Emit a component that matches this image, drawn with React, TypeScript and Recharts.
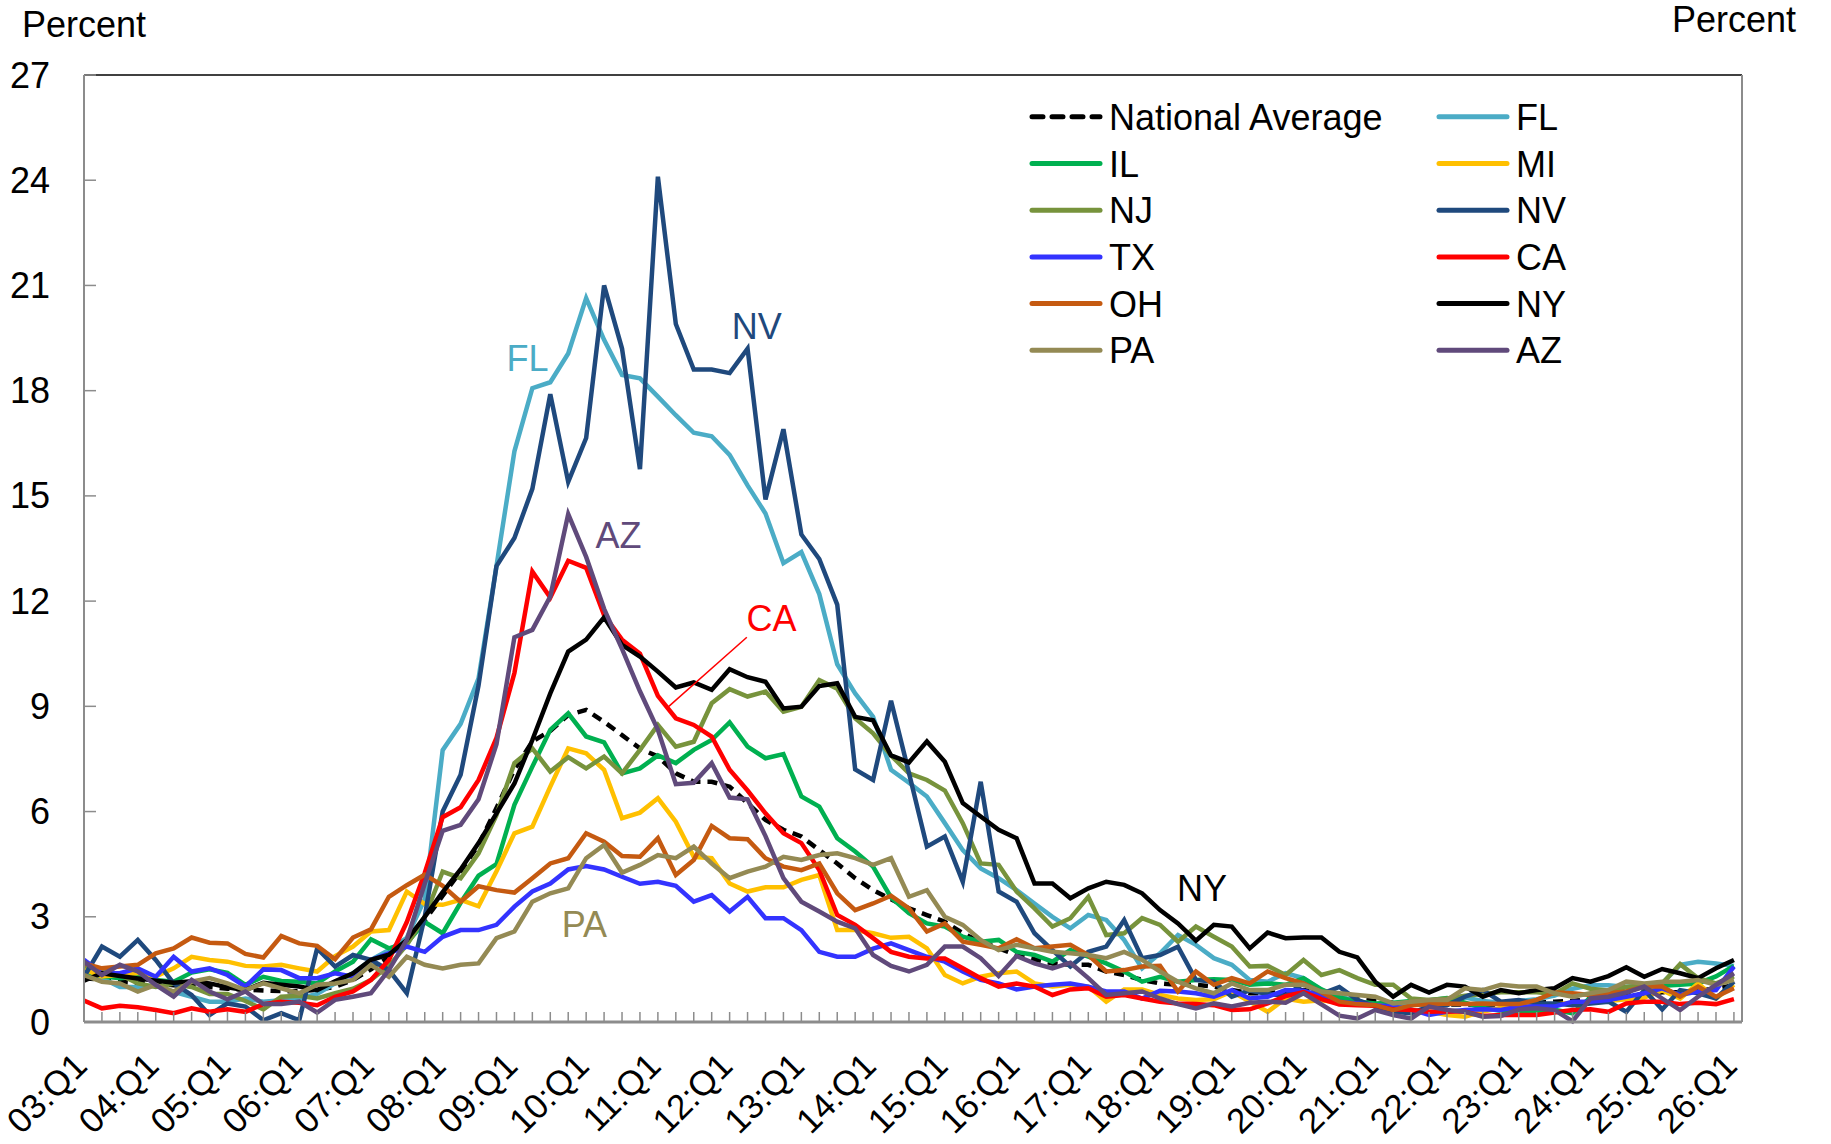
import React from 'react';
import { LineChart, Line, XAxis, YAxis, ReferenceDot, ReferenceLine } from 'recharts';

const YEARS = ['03','04','05','06','07','08','09','10','11','12','13','14','15','16','17','18','19','20','21','22','23','24','25','26'];
const QUARTERS = ['Q1','Q2','Q3','Q4'];
const CATEGORIES: string[] = [];
YEARS.forEach((y) => QUARTERS.forEach((q) => { if (!(y === '26' && q !== 'Q1')) CATEGORIES.push(`${y}:${q}`); }));

const Y_TICKS = [0, 3, 6, 9, 12, 15, 18, 21, 24, 27];

const NAT = [1.25,1.2,1.15,1.12,1.1,1.05,1.02,1.0,0.95,0.92, 0.9,0.88,0.88,0.92,1.0,1.2,1.5,1.85,2.3,2.9, 3.6,4.3,5.05,6.1,7.2,8.0,8.3,8.75,8.9,8.56, 8.18,7.8,7.57,7.09,6.85,6.85,6.71,6.24,5.76,5.48, 5.29,4.9,4.52,4.1,3.76,3.5,3.24,3.05,2.86,2.53, 2.29,2.1,1.91,1.79,1.67,1.63,1.63,1.44,1.34,1.2, 1.1,1.06,1.06,1.01,0.91,0.82,0.82,0.87,0.91,0.82, 0.72,0.65,0.6,0.55,0.52,0.5,0.5,0.5,0.5,0.5, 0.52,0.55,0.58,0.6,0.65,0.7,0.75,0.8,0.85,0.85, 0.9,0.95,1.05];
const FL = [1.4,1.25,1.0,1.0,1.05,0.86,0.72,0.58,0.58,0.67, 0.58,0.62,0.67,0.8,1.1,1.39,1.77,2.05,2.4,3.5, 7.75,8.5,9.8,13.0,16.27,18.07,18.24,19.06,20.64,19.45, 18.45,18.35,17.83,17.3,16.8,16.7,16.17,15.3,14.5,13.08, 13.4,12.2,10.2,9.37,8.7,7.19,6.82,6.43,5.67,4.9, 4.38,4.1,3.76,3.38,3.0,2.67,3.05,2.91,2.34,1.53, 1.96,2.48,2.2,1.82,1.63,1.2,1.15,1.39,1.25,0.91, 0.72,0.6,0.5,0.45,0.5,0.55,0.6,0.7,0.6,0.55, 0.6,0.65,0.75,0.95,1.05,1.05,1.0,1.05,1.1,1.63, 1.72,1.67,1.6];
const IL = [1.45,1.3,1.25,1.3,1.2,1.15,1.41,1.5,1.4,1.06, 1.29,1.17,1.15,1.1,1.44,1.72,2.36,2.1,2.25,2.85, 2.53,3.4,4.17,4.5,6.19,7.28,8.33,8.8,8.14,7.97, 7.09,7.23,7.6,7.38,7.76,8.04,8.54,7.85,7.52,7.64, 6.43,6.14,5.24,4.86,4.43,3.55,3.1,2.81,2.72,2.43, 2.29,2.34,2.0,1.91,1.72,2.05,1.86,1.67,1.44,1.15, 1.29,1.15,1.2,1.22,1.2,1.06,1.1,1.06,1.25,0.93, 0.7,0.58,0.53,0.55,0.6,0.62,0.68,0.55,0.4,0.32, 0.3,0.3,0.35,0.25,0.7,0.85,1.0,1.0,1.03,1.06, 1.1,1.3,1.6];
const MI = [1.5,1.3,1.35,1.4,1.3,1.53,1.86,1.77,1.72,1.6, 1.58,1.63,1.53,1.44,1.88,2.15,2.58,2.62,3.72,3.36, 3.34,3.48,3.3,4.3,5.38,5.57,6.71,7.8,7.66,7.19, 5.81,5.97,6.38,5.71,4.71,4.67,3.95,3.72,3.84,3.84, 4.05,4.19,2.62,2.62,2.53,2.4,2.43,2.1,1.34,1.1, 1.29,1.39,1.44,1.1,1.01,1.06,1.01,0.58,0.93,0.93, 0.77,0.67,0.63,0.65,0.87,0.58,0.29,0.67,0.58,0.62, 0.55,0.5,0.48,0.42,0.35,0.3,0.2,0.15,0.3,0.4, 0.45,0.45,0.5,0.55,0.55,0.6,0.65,0.7,0.9,0.67, 1.1,0.67,1.06];
const NJ = [1.6,1.5,1.35,1.1,1.0,1.1,1.0,0.8,0.8,0.6, 0.36,0.72,0.75,0.67,0.82,0.95,1.2,1.6,2.2,3.0, 4.29,4.1,4.81,5.9,7.38,7.8,7.14,7.55,7.23,7.57, 7.09,7.76,8.47,7.85,7.99,9.09,9.49,9.28,9.42,8.85, 8.99,9.75,9.5,8.66,8.23,7.6,7.09,6.9,6.6,5.67, 4.52,4.48,3.72,3.24,2.72,2.96,3.57,2.48,2.53,2.96, 2.77,2.29,2.72,2.43,2.15,1.58,1.6,1.34,1.77,1.34, 1.48,1.25,1.06,1.06,0.67,0.63,0.67,0.75,0.8,0.85, 0.85,0.85,0.8,1.1,0.95,0.9,1.0,1.05,1.1,1.65, 1.25,1.1,1.3];
const NV = [1.29,2.15,1.86,2.34,1.77,1.1,0.77,0.2,0.53,0.44, 0.05,0.25,0.05,2.1,1.58,1.91,1.77,1.48,0.82,3.0, 6.0,7.05,9.6,13.0,13.8,15.2,17.9,15.4,16.65,21.0, 19.2,15.76,24.1,19.9,18.6,18.6,18.5,19.2,14.9,16.9, 13.9,13.2,11.9,7.2,6.9,9.16,7.1,5.0,5.29,4.0, 6.85,3.72,3.43,2.53,2.05,1.58,2.0,2.15,2.91,1.82, 1.91,2.15,1.2,1.15,0.72,0.9,0.8,0.75,1.1,0.8, 1.0,0.63,0.44,0.29,0.25,0.44,0.48,0.72,0.91,0.58, 0.63,0.53,0.53,0.48,0.53,0.58,0.29,0.91,0.36,0.91, 0.82,0.67,1.15];
const TX = [1.77,1.39,1.39,1.53,1.29,1.86,1.44,1.53,1.34,1.01, 1.5,1.48,1.25,1.25,1.39,1.29,1.77,1.96,2.15,2.0, 2.43,2.62,2.62,2.77,3.29,3.72,3.95,4.35,4.45,4.35, 4.14,3.94,4.0,3.88,3.43,3.62,3.15,3.57,2.96,2.96, 2.62,2.0,1.86,1.86,2.09,2.24,2.05,1.86,1.72,1.44, 1.2,1.1,0.93,1.01,1.06,1.1,1.01,0.87,0.87,0.67, 0.89,0.87,0.82,0.72,0.91,0.67,0.72,0.91,0.89,0.75, 0.58,0.53,0.48,0.44,0.36,0.2,0.29,0.34,0.36,0.34, 0.44,0.44,0.44,0.58,0.58,0.63,0.72,0.82,0.96,0.77, 0.87,0.91,1.58];
const CA = [0.61,0.39,0.46,0.42,0.34,0.25,0.39,0.29,0.36,0.29, 0.51,0.58,0.55,0.48,0.72,0.87,1.2,1.77,2.85,4.25, 5.84,6.12,6.9,8.1,9.95,12.84,12.1,13.15,12.95,11.6, 10.9,10.5,9.3,8.66,8.47,8.14,7.19,6.6,5.95,5.38, 5.1,4.33,3.05,2.77,2.39,2.0,1.86,1.81,1.81,1.53, 1.25,1.01,1.1,1.01,0.77,0.93,0.96,0.72,0.77,0.67, 0.58,0.53,0.51,0.48,0.34,0.36,0.53,0.74,0.85,0.65, 0.5,0.48,0.46,0.36,0.34,0.29,0.31,0.29,0.17,0.2, 0.2,0.2,0.27,0.34,0.36,0.29,0.53,0.58,0.58,0.51, 0.55,0.51,0.65];
const OH = [1.67,1.53,1.58,1.63,1.96,2.1,2.41,2.26,2.24,1.94, 1.84,2.45,2.24,2.17,1.79,2.41,2.64,3.57,3.9,4.2, 3.88,3.43,3.87,3.76,3.69,4.1,4.52,4.67,5.38,5.14, 4.73,4.71,5.24,4.19,4.62,5.59,5.24,5.21,4.67,4.43, 4.33,4.52,3.67,3.19,3.38,3.6,3.24,2.58,2.81,2.29, 2.2,2.1,2.36,2.1,2.15,2.2,1.91,1.44,1.48,1.58, 1.6,0.87,1.44,1.06,1.25,1.1,1.44,1.25,1.1,0.85, 0.58,0.51,0.48,0.34,0.48,0.51,0.53,0.51,0.53,0.51, 0.51,0.63,0.84,0.82,0.77,0.82,0.87,1.01,1.01,0.72, 1.01,0.72,0.96];
const NY = [1.18,1.39,1.31,1.24,1.18,1.12,1.16,1.1,0.99,0.91, 1.12,1.06,1.01,0.91,1.16,1.39,1.77,1.92,2.34,3.0, 3.7,4.35,5.1,5.95,6.8,8.04,9.37,10.56,10.9,11.54, 10.75,10.42,9.99,9.54,9.68,9.47,10.06,9.83,9.7,8.94, 8.99,9.58,9.66,8.7,8.6,7.6,7.4,8.0,7.42,6.24, 5.86,5.48,5.24,3.95,3.95,3.53,3.81,4.0,3.91,3.67, 3.19,2.81,2.32,2.77,2.72,2.1,2.55,2.39,2.41,2.41, 2.0,1.84,1.15,0.72,1.06,0.84,1.06,1.01,0.72,0.91, 0.82,0.91,0.96,1.25,1.15,1.31,1.56,1.29,1.51,1.39, 1.25,1.53,1.77];
const PA = [1.34,1.15,1.1,0.87,1.06,0.87,1.15,1.25,1.1,0.91, 1.1,0.96,0.82,1.06,1.1,1.2,1.63,1.29,1.86,1.63, 1.53,1.63,1.67,2.39,2.58,3.43,3.67,3.81,4.67,5.05, 4.26,4.48,4.76,4.67,5.0,4.52,4.1,4.29,4.43,4.71, 4.62,4.76,4.81,4.67,4.48,4.67,3.57,3.76,3.0,2.77, 2.34,2.05,2.2,2.1,2.0,1.96,1.91,1.82,2.0,1.77, 1.44,1.15,0.96,0.82,1.1,0.91,0.91,1.06,1.06,0.87, 0.82,0.77,0.72,0.53,0.58,0.63,0.63,0.96,0.91,1.06, 1.01,1.01,0.82,0.72,0.82,0.91,1.15,1.1,1.15,1.15, 1.2,1.06,1.2];
const AZ = [1.72,1.34,1.63,1.44,1.06,0.72,1.2,0.87,0.65,0.87, 0.51,0.51,0.58,0.27,0.63,0.72,0.82,1.48,2.34,3.95, 5.45,5.62,6.35,7.92,10.97,11.18,12.13,14.48,13.26,11.78, 10.64,9.43,8.33,6.78,6.82,7.38,6.4,6.35,5.3,4.1, 3.43,3.15,2.86,2.67,1.91,1.6,1.44,1.63,2.15,2.15, 1.82,1.31,1.88,1.67,1.53,1.69,1.25,0.77,0.82,0.87, 0.67,0.51,0.39,0.53,0.44,0.55,0.58,0.55,0.82,0.5, 0.18,0.1,0.34,0.2,0.1,0.44,0.34,0.29,0.15,0.17, 0.36,0.39,0.34,0.02,0.67,0.72,0.84,1.01,0.67,0.34, 0.72,1.06,1.39];

const SERIES = [
  { key: 'NAT', name: 'National Average', color: '#000000', data: NAT, dash: '10 7' },
  { key: 'FL', name: 'FL', color: '#4BACC6', data: FL },
  { key: 'IL', name: 'IL', color: '#00B050', data: IL },
  { key: 'MI', name: 'MI', color: '#FFC000', data: MI },
  { key: 'NJ', name: 'NJ', color: '#77933C', data: NJ },
  { key: 'NV', name: 'NV', color: '#1F497D', data: NV },
  { key: 'TX', name: 'TX', color: '#3333FF', data: TX },
  { key: 'CA', name: 'CA', color: '#FF0000', data: CA },
  { key: 'OH', name: 'OH', color: '#C55A11', data: OH },
  { key: 'NY', name: 'NY', color: '#000000', data: NY },
  { key: 'PA', name: 'PA', color: '#948A54', data: PA },
  { key: 'AZ', name: 'AZ', color: '#604A7B', data: AZ },
];

const ANNOTATIONS = [
  { text: 'FL', x: 24.73, y: 18.92, color: '#4BACC6' },
  { text: 'NV', x: 37.51, y: 19.83, color: '#1F497D' },
  { text: 'AZ', x: 29.8, y: 13.86, color: '#604A7B' },
  { text: 'CA', x: 38.33, y: 11.51, color: '#FF0000' },
  { text: 'NY', x: 62.34, y: 3.81, color: '#000000' },
  { text: 'PA', x: 27.9, y: 2.77, color: '#948A54' },
];
const CA_POINTER = [{ x: 36.96, y: 10.97 }, { x: 32.61, y: 9.0 }];

const rows = CATEGORIES.map((c, i) => {
  const r: any = { idx: i, cat: c };
  SERIES.forEach((s) => { r[s.key] = s.data[i]; });
  return r;
});

const FONT = '"Liberation Sans", Arial, sans-serif';
const AXIS_GRAY = '#8c8c8c';

const XTick = (props: any) => {
  const { x, y, payload } = props;
  const i = payload.value as number;
  const label = i % 4 === 0 ? CATEGORIES[i] : null;
  const tx = x + 5;
  const ty = y + 46;
  return (
    <g>
      <line x1={x} x2={x} y1={y} y2={y - 10} stroke={AXIS_GRAY} strokeWidth={1.5} />
      {label && (
        <text x={tx} y={ty} transform={`rotate(-45 ${tx} ${ty})`} textAnchor="end" fontSize={35} fill="#000" fontFamily={FONT}>
          {label}
        </text>
      )}
    </g>
  );
};

const LeftTick = (props: any) => {
  const { x, y, payload } = props;
  return (
    <g>
      <line x1={x} x2={x + 12} y1={y} y2={y} stroke={AXIS_GRAY} strokeWidth={1.5} />
      <text x={x - 34} y={y} dy="0.35em" textAnchor="end" fontSize={36} fill="#000" fontFamily={FONT}>{payload.value}</text>
    </g>
  );
};

const RightTick = (props: any) => {
  const { x, y, payload } = props;
  return (
    <g>
      <line x1={x} x2={x - 12} y1={y} y2={y} stroke={AXIS_GRAY} strokeWidth={1.5} />
      <text x={x + 30} y={y} dy="0.35em" textAnchor="start" fontSize={36} fill="#000" fontFamily={FONT}>{payload.value}</text>
    </g>
  );
};

const LegendOverlay = () => {
  const rowsN = Math.ceil(SERIES.length / 2);
  const items = [] as any[];
  for (let r = 0; r < rowsN; r++) {
    for (let c = 0; c < 2; c++) {
      const s = SERIES[r * 2 + c];
      if (!s) continue;
      const cy = 116.8 + r * 46.7;
      const lx = c === 0 ? 1032 : 1439;
      items.push(
        <g key={s.key}>
          <line x1={lx} x2={lx + 68} y1={cy} y2={cy} stroke={s.color} strokeWidth={5} strokeLinecap="round" strokeDasharray={s.dash ? '11 9' : undefined} />
          <text x={lx + 77} y={cy + 13} fontSize={36} fill="#000" fontFamily={FONT}>{s.name}</text>
        </g>
      );
    }
  }
  return <>{items}</>;
};

const AnnotationShape = (color: string, text: string) => (p: any) => (
  <text x={p.cx} y={p.cy} textAnchor="middle" dominantBaseline="central" fontSize={36} fill={color} fontFamily={FONT}>{text}</text>
);

export default function App() {
  return (
    <div style={{ position: 'absolute', left: 0, top: 0, width: 1831, height: 1144, background: '#fff', fontFamily: FONT }}>
      <LineChart width={1831} height={1144} data={rows} margin={{ top: 75, right: 0, bottom: 0, left: 0 }}>
        <XAxis
          dataKey="idx"
          type="number"
          domain={[0, 92.45]}
          ticks={CATEGORIES.map((_, i) => i)}
          interval={0}
          tick={<XTick />}
          tickLine={false}
          tickSize={0}
          tickMargin={0}
          axisLine={{ stroke: AXIS_GRAY, strokeWidth: 3 }}
          height={122}
          allowDataOverflow
        />
        <YAxis yAxisId="left" domain={[0, 27]} ticks={Y_TICKS} interval={0} width={84} tick={<LeftTick />} tickLine={false} tickSize={0} tickMargin={0} axisLine={{ stroke: AXIS_GRAY, strokeWidth: 2 }} />
        <YAxis yAxisId="right" orientation="right" domain={[0, 27]} ticks={Y_TICKS} interval={0} width={89} tick={<RightTick />} tickLine={false} tickSize={0} tickMargin={0} axisLine={{ stroke: AXIS_GRAY, strokeWidth: 2 }} />
        <ReferenceLine yAxisId="left" y={27} stroke="#000" strokeWidth={1.5} />
        {SERIES.map((s) => (
          <Line
            key={s.key}
            yAxisId="left"
            type="linear"
            dataKey={s.key}
            name={s.name}
            stroke={s.color}
            strokeWidth={4.5}
            strokeDasharray={s.dash}
            dot={false}
            activeDot={false}
            isAnimationActive={false}
          />
        ))}
        <ReferenceLine yAxisId="left" segment={CA_POINTER} stroke="#FF0000" strokeWidth={1.5} />
        {ANNOTATIONS.map((a) => (
          <ReferenceDot key={a.text} yAxisId="left" x={a.x} y={a.y} r={0} shape={AnnotationShape(a.color, a.text)} />
        ))}
      </LineChart>
      <svg width={1831} height={1144} style={{ position: 'absolute', left: 0, top: 0, pointerEvents: 'none' }}>
        <text x={22} y={37} fontSize={36} fill="#000" fontFamily={FONT}>Percent</text>
        <text x={1796} y={32} fontSize={36} fill="#000" fontFamily={FONT} textAnchor="end">Percent</text>
        <LegendOverlay />
      </svg>
    </div>
  );
}
